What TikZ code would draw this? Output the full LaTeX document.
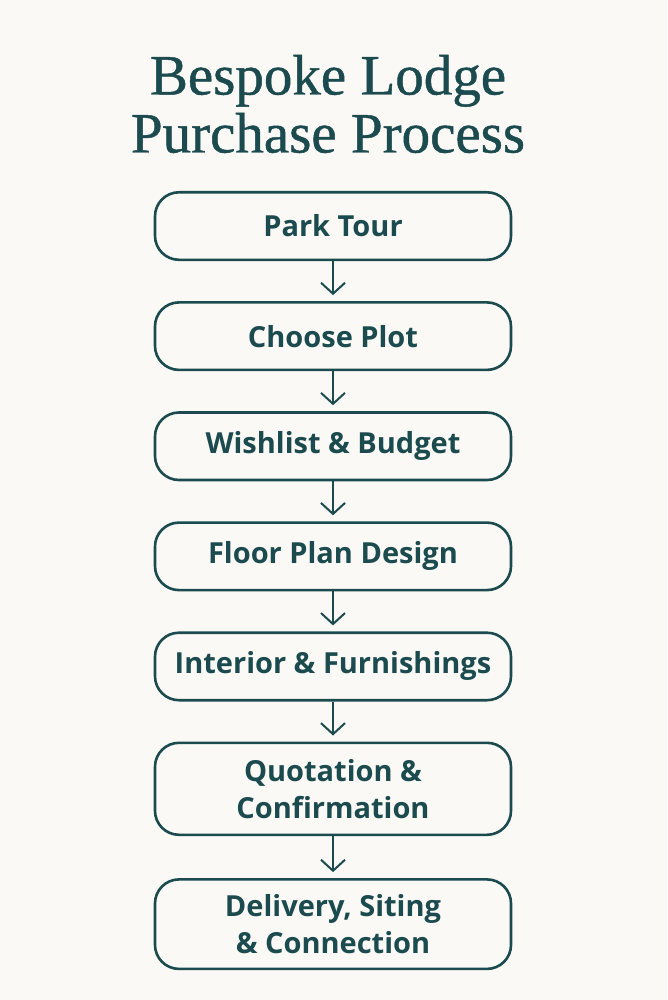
\documentclass[tikz,border=0pt]{standalone}
\usepackage{fontspec}
\setmainfont{Liberation Serif}[FakeBold=0.8]
\setsansfont{Open Sans}[Ligatures=NoCommon]
\usetikzlibrary{positioning,arrows.meta}
\definecolor{lodgeteal}{HTML}{1B4B4E}
\definecolor{paper}{HTML}{FAF9F5}
\tikzset{
    >={Straight Barb[length=11pt,width=24pt,line width=2pt]},
    stepbox/.style={
        rectangle,
        rounded corners=24pt,
        draw=lodgeteal, line width=2.6pt,
        text=lodgeteal,
        minimum width=356pt,
        minimum height=67.5pt,
        align=center,
        inner sep=0pt,
        font={\sffamily\bfseries\fontsize{29pt}{37pt}\selectfont}
    },
    tallbox/.style={stepbox, minimum height=92pt},
    line/.style={draw=lodgeteal, line width=2pt, ->, shorten >=6pt},
    titletext/.style={text=lodgeteal, align=center,
        font={\fontsize{57pt}{58pt}\selectfont}},
}
\begin{document}
\begin{tikzpicture}[x=1pt,y=-1pt, node distance=40pt]
    \fill[paper] (0,0) rectangle (667,1000);
    \useasboundingbox (0,0) rectangle (667,1000);

    \node(title) [titletext] at (328,104) {Bespoke Lodge\\Purchase Process};

    \node(tour)    [stepbox, anchor=north] at (333,191) {Park Tour};
    \node(plot)    [stepbox, below=of tour] {Choose Plot};
    \node(budget)  [stepbox, below=of plot] {Wishlist \& Budget};
    \node(plan)    [stepbox, below=of budget] {Floor Plan Design};
    \node(interior)[stepbox, below=of plan] {Interior \& Furnishings};
    \node(quote)   [tallbox, below=of interior] {Quotation \&\\Confirmation};
    \node(deliver) [tallbox, minimum height=89.5pt, below=42pt of quote] {Delivery, Siting\\\& Connection};

    \draw[line] (tour) -- (plot);
    \draw[line] (plot) -- (budget);
    \draw[line] (budget) -- (plan);
    \draw[line] (plan) -- (interior);
    \draw[line] (interior) -- (quote);
    \draw[line] (quote) -- (deliver);
\end{tikzpicture}
\end{document}
